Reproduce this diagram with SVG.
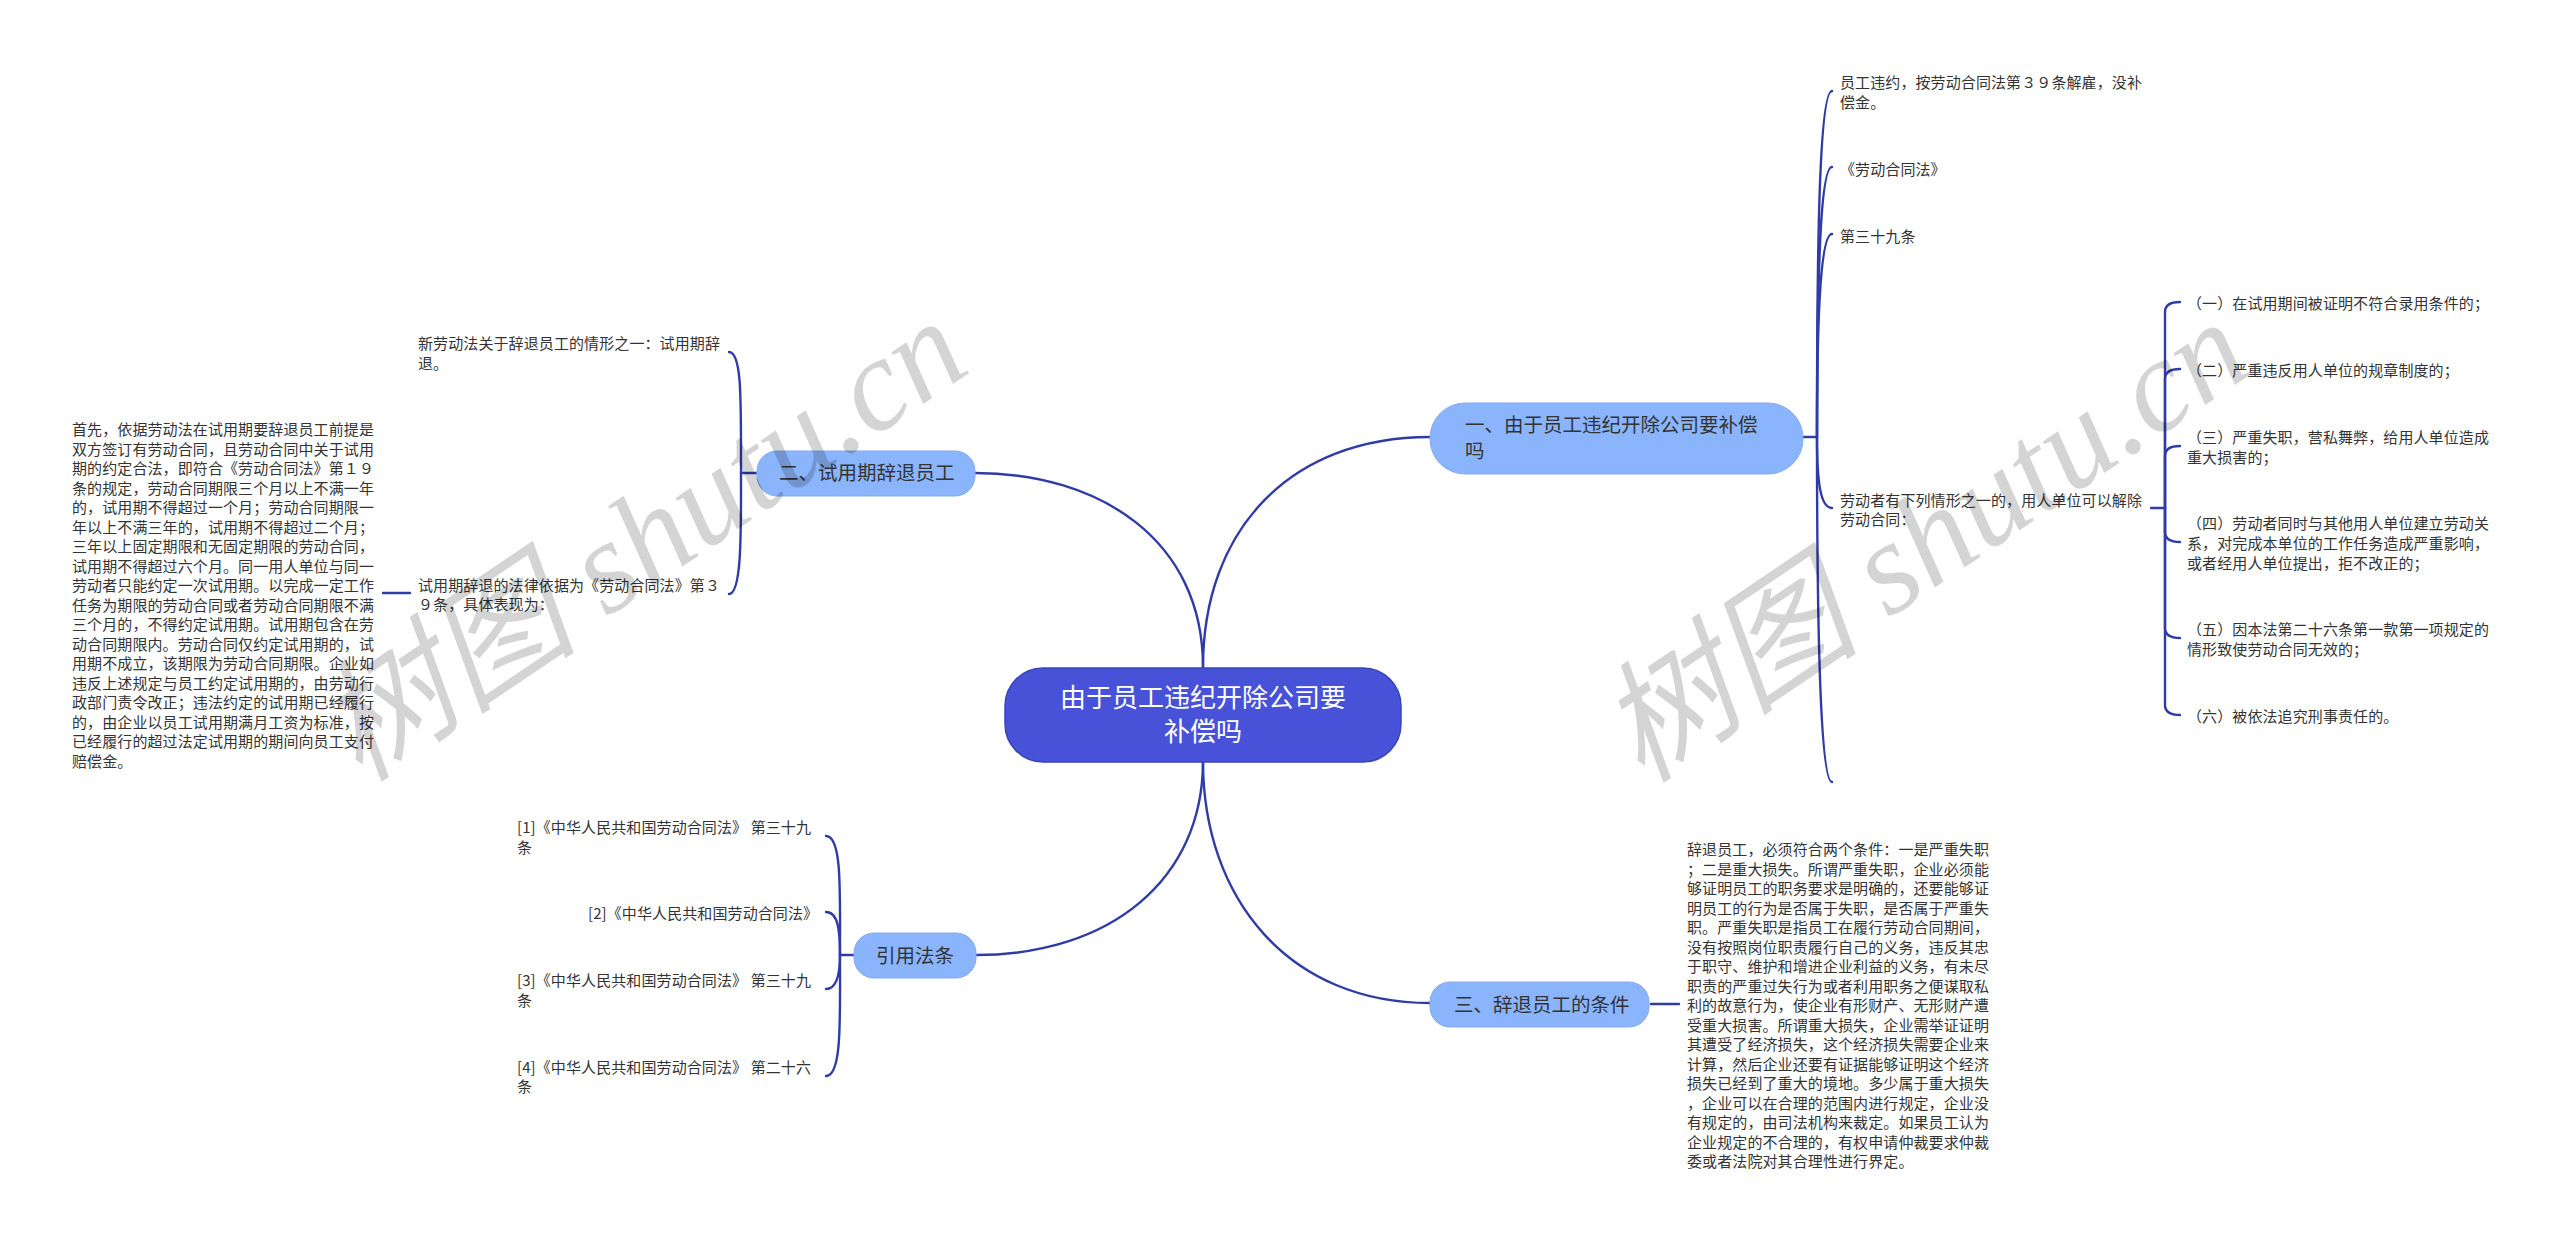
<svg xmlns="http://www.w3.org/2000/svg" width="2560" height="1242" viewBox="0 0 2560 1242">
<style>
text{font-family:"Noto Sans CJK SC","Noto Sans",sans-serif;fill:#333}
.t{font-size:15px;letter-spacing:.1px}
.b{font-size:19.5px}
.c{font-size:26px;fill:#fff;text-anchor:middle}
.n{fill:#8ab4fb;stroke:#84abf0;stroke-width:1}
.r{fill:#4752d8;stroke:#3a46b8;stroke-width:1.5}
.l{fill:none;stroke:#2f3ca6;stroke-width:2.4;stroke-linecap:round}
.w{font-family:"Liberation Serif","Noto Sans CJK SC",serif;font-style:italic;font-size:132px;fill:#000;fill-opacity:.17}
</style>
<rect width="2560" height="1242" fill="#fff"/>
<g id="connectors" class="l">
<path class="l" d="M1203 667C1203 540 1100 473 975 473"/>
<path class="l" d="M1203 667C1203 530 1290 437 1430 437"/>
<path class="l" d="M1203 761C1203 880 1110 955 976 955"/>
<path class="l" d="M1203 761C1203 900 1290 1003 1430 1003"/>
<path class="l" d="M757 473H741"/>
<path class="l" d="M741 473C741 400 742 352 729 352"/>
<path class="l" d="M741 473C741 530 742 594 729 594"/>
<path class="l" d="M410 593H383"/>
<path class="l" d="M854 955H840"/>
<path class="l" d="M840 955C840 890 842 836 826 836"/>
<path class="l" d="M840 955C840 930 838 912 826 912"/>
<path class="l" d="M840 955C840 970 838 989 826 989"/>
<path class="l" d="M840 955C840 1020 842 1076 826 1076"/>
<path class="l" d="M1651 1004H1679"/>
<path class="l" d="M1803 437H1817"/>
<path class="l" d="M1817 437C1817 250 1819 91 1832 91"/>
<path class="l" d="M1817 437C1817 300 1819 167 1832 167"/>
<path class="l" d="M1817 437C1817 340 1819 234 1832 234"/>
<path class="l" d="M1817 437C1817 480 1820 508 1832 508"/>
<path class="l" d="M1817 437C1817 620 1820 782 1832 782"/>
<path class="l" d="M2151 508H2165"/>
<path class="l" d="M2165 508V312Q2165 302 2180 302"/>
<path class="l" d="M2165 508V379Q2165 369 2180 369"/>
<path class="l" d="M2165 508V456Q2165 446 2180 446"/>
<path class="l" d="M2165 508V532Q2165 542 2180 542"/>
<path class="l" d="M2165 508V628Q2165 638 2180 638"/>
<path class="l" d="M2165 508V705Q2165 715 2180 715"/>
</g>
<g id="root"><rect class="r" x="1005" y="668" width="396" height="94" rx="38"/><text class="c" x="1203" y="707">由于员工违纪开除公司要</text><text class="c" x="1203" y="741">补偿吗</text></g>
<g id="node-1"><rect class="n" x="1430" y="403" width="373" height="71" rx="35"/><text class="b" x="1465" y="432">一、由于员工违纪开除公司要补偿</text><text class="b" x="1465" y="458">吗</text></g>
<g id="node-2"><rect class="n" x="757" y="451" width="218" height="45" rx="20"/><text class="b" x="779" y="480">二、试用期辞退员工</text></g>
<g id="node-3"><rect class="n" x="1430" y="982" width="219" height="45" rx="20"/><text class="b" x="1454" y="1012">三、辞退员工的条件</text></g>
<g id="node-4"><rect class="n" x="854" y="933" width="122" height="45" rx="20"/><text class="b" x="876" y="963">引用法条</text></g>
<g id="t-a1" class="t"><text class="t" x="1840" y="88">员工违约，按劳动合同法第３９条解雇，没补</text><text class="t" x="1840" y="108">偿金。</text></g>
<g id="t-a2"><text class="t" x="1840" y="175">《劳动合同法》</text></g>
<g id="t-a3"><text class="t" x="1840" y="242">第三十九条</text></g>
<g id="t-a4"><text class="t" x="1840" y="506">劳动者有下列情形之一的，用人单位可以解除</text><text class="t" x="1840" y="525">劳动合同：</text></g>
<g id="t-b1"><text class="t" x="2187" y="309">（一）在试用期间被证明不符合录用条件的；</text></g>
<g id="t-b2"><text class="t" x="2187" y="376">（二）严重违反用人单位的规章制度的；</text></g>
<g id="t-b3"><text class="t" x="2187" y="443">（三）严重失职，营私舞弊，给用人单位造成</text><text class="t" x="2187" y="463">重大损害的；</text></g>
<g id="t-b4"><text class="t" x="2187" y="529">（四）劳动者同时与其他用人单位建立劳动关</text><text class="t" x="2187" y="549">系，对完成本单位的工作任务造成严重影响，</text><text class="t" x="2187" y="569">或者经用人单位提出，拒不改正的；</text></g>
<g id="t-b5"><text class="t" x="2187" y="635">（五）因本法第二十六条第一款第一项规定的</text><text class="t" x="2187" y="655">情形致使劳动合同无效的；</text></g>
<g id="t-b6"><text class="t" x="2187" y="722">（六）被依法追究刑事责任的。</text></g>
<g id="t-c1"><text class="t" x="418" y="349">新劳动法关于辞退员工的情形之一：试用期辞</text><text class="t" x="418" y="369">退。</text></g>
<g id="t-c2"><text class="t" x="418" y="591">试用期辞退的法律依据为《劳动合同法》第３</text><text class="t" x="418" y="610">９条，具体表现为：</text></g>
<g id="t-c3">
<text class="t" x="72" y="435">首先，依据劳动法在试用期要辞退员工前提是</text>
<text class="t" x="72" y="454.5">双方签订有劳动合同，且劳动合同中关于试用</text>
<text class="t" x="72" y="474">期的约定合法，即符合《劳动合同法》第１９</text>
<text class="t" x="72" y="493.5">条的规定，劳动合同期限三个月以上不满一年</text>
<text class="t" x="72" y="513">的，试用期不得超过一个月；劳动合同期限一</text>
<text class="t" x="72" y="532.5">年以上不满三年的，试用期不得超过二个月；</text>
<text class="t" x="72" y="552">三年以上固定期限和无固定期限的劳动合同，</text>
<text class="t" x="72" y="571.5">试用期不得超过六个月。同一用人单位与同一</text>
<text class="t" x="72" y="591">劳动者只能约定一次试用期。以完成一定工作</text>
<text class="t" x="72" y="610.5">任务为期限的劳动合同或者劳动合同期限不满</text>
<text class="t" x="72" y="630">三个月的，不得约定试用期。试用期包含在劳</text>
<text class="t" x="72" y="649.5">动合同期限内。劳动合同仅约定试用期的，试</text>
<text class="t" x="72" y="669">用期不成立，该期限为劳动合同期限。企业如</text>
<text class="t" x="72" y="688.5">违反上述规定与员工约定试用期的，由劳动行</text>
<text class="t" x="72" y="708">政部门责令改正；违法约定的试用期已经履行</text>
<text class="t" x="72" y="727.5">的，由企业以员工试用期满月工资为标准，按</text>
<text class="t" x="72" y="747">已经履行的超过法定试用期的期间向员工支付</text>
<text class="t" x="72" y="766.5">赔偿金。</text>
</g>
<g id="t-d1"><text class="t" x="517" y="833">[1]《中华人民共和国劳动合同法》 第三十九</text><text class="t" x="517" y="853">条</text></g>
<g id="t-d2"><text class="t" x="588" y="919">[2]《中华人民共和国劳动合同法》</text></g>
<g id="t-d3"><text class="t" x="517" y="986">[3]《中华人民共和国劳动合同法》 第三十九</text><text class="t" x="517" y="1006">条</text></g>
<g id="t-d4"><text class="t" x="517" y="1073">[4]《中华人民共和国劳动合同法》 第二十六</text><text class="t" x="517" y="1092">条</text></g>
<g id="t-e1">
<text class="t" x="1687" y="855">辞退员工，必须符合两个条件：一是严重失职</text>
<text class="t" x="1687" y="874.5">；二是重大损失。所谓严重失职，企业必须能</text>
<text class="t" x="1687" y="894">够证明员工的职务要求是明确的，还要能够证</text>
<text class="t" x="1687" y="913.5">明员工的行为是否属于失职，是否属于严重失</text>
<text class="t" x="1687" y="933">职。严重失职是指员工在履行劳动合同期间，</text>
<text class="t" x="1687" y="952.5">没有按照岗位职责履行自己的义务，违反其忠</text>
<text class="t" x="1687" y="972">于职守、维护和增进企业利益的义务，有未尽</text>
<text class="t" x="1687" y="991.5">职责的严重过失行为或者利用职务之便谋取私</text>
<text class="t" x="1687" y="1011">利的故意行为，使企业有形财产、无形财产遭</text>
<text class="t" x="1687" y="1030.5">受重大损害。所谓重大损失，企业需举证证明</text>
<text class="t" x="1687" y="1050">其遭受了经济损失，这个经济损失需要企业来</text>
<text class="t" x="1687" y="1069.5">计算，然后企业还要有证据能够证明这个经济</text>
<text class="t" x="1687" y="1089">损失已经到了重大的境地。多少属于重大损失</text>
<text class="t" x="1687" y="1108.5">，企业可以在合理的范围内进行规定，企业没</text>
<text class="t" x="1687" y="1128">有规定的，由司法机构来裁定。如果员工认为</text>
<text class="t" x="1687" y="1147.5">企业规定的不合理的，有权申请仲裁要求仲裁</text>
<text class="t" x="1687" y="1167">委或者法院对其合理性进行界定。</text>
</g>
<g id="watermarks">
<text class="w" transform="translate(360 784) rotate(-34)">树图 shutu.cn</text>
<text class="w" transform="translate(1642 785) rotate(-34)">树图 shutu.cn</text>
</g>
</svg>
